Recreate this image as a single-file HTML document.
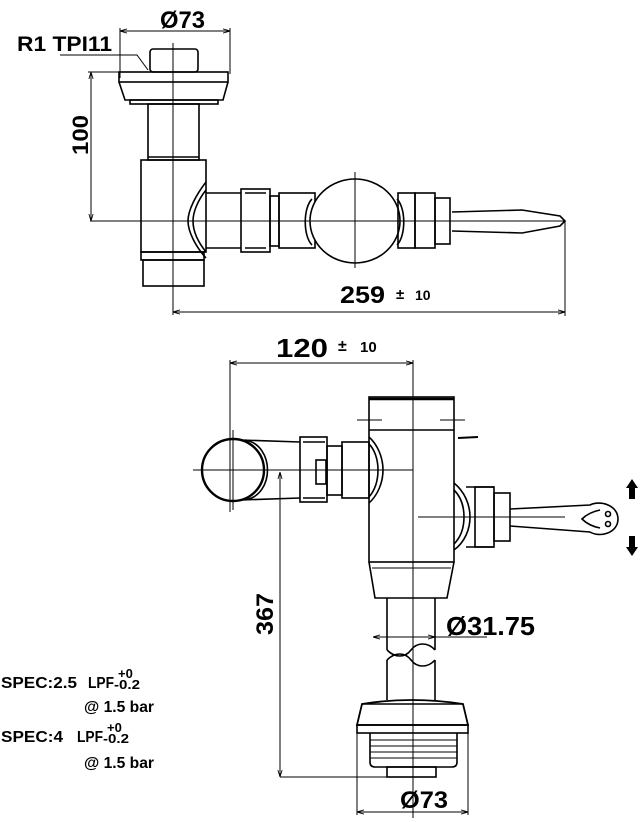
<!DOCTYPE html>
<html><head><meta charset="utf-8"><style>
html,body{margin:0;padding:0;background:#fff;}
svg{display:block;}
text{font-family:"Liberation Sans",sans-serif;font-weight:bold;fill:#000;}
</style></head><body>
<svg width="644" height="822" viewBox="0 0 644 822" xmlns="http://www.w3.org/2000/svg">
<defs>
<marker id="a" viewBox="0 0 10 10" refX="10" refY="5" markerWidth="7" markerHeight="7" orient="auto-start-reverse"><path d="M0,2 L10,5 L0,8" fill="none" stroke="#000" stroke-width="1.2"/></marker>
</defs>
<g fill="none" stroke="#000" stroke-width="1.6">
<line x1="120" y1="31" x2="230" y2="31" stroke-width="1" marker-start="url(#a)" marker-end="url(#a)"/>
<line x1="120" y1="28" x2="120" y2="78" stroke-width="1"/>
<line x1="230" y1="28" x2="230" y2="74" stroke-width="1"/>
<polyline points="60,55 137,55 148,70" stroke-width="1"/>
<line x1="91" y1="72" x2="91" y2="221" stroke-width="1" marker-start="url(#a)" marker-end="url(#a)"/>
<line x1="88" y1="72" x2="120" y2="72" stroke-width="1"/>
<line x1="90" y1="221" x2="565" y2="221" stroke-width="1"/>
<line x1="173" y1="43" x2="173" y2="315" stroke-width="1"/>
<line x1="173" y1="312" x2="565" y2="312" stroke-width="1" marker-start="url(#a)" marker-end="url(#a)"/>
<line x1="565" y1="221" x2="565" y2="316" stroke-width="1"/>
<rect x="150" y="49" width="48" height="23" rx="3"/>
<rect x="119" y="72" width="109" height="10"/>
<path d="M119,82 L125,100 L223,100 L228,82"/>
<rect x="130" y="100" width="88" height="4"/>
<rect x="148" y="104" width="51" height="56"/>
<line x1="148" y1="157" x2="199" y2="157"/>
<rect x="141" y="160" width="65" height="92"/>
<rect x="141" y="252" width="63" height="8"/>
<rect x="143" y="260" width="61" height="26"/>
<path d="M206,182 C196,195 188,210 188,221 C188,232 196,247 206,258"/>
<path d="M206,190 C198,200 193,212 193,221 C193,232 198,242 206,252"/>
<line x1="206" y1="193" x2="241" y2="193"/>
<line x1="206" y1="248" x2="241" y2="248"/>
<rect x="241" y="189" width="29" height="63"/>
<line x1="245" y1="193" x2="266" y2="193"/><line x1="245" y1="248" x2="266" y2="248"/>
<rect x="270" y="196" width="9" height="50"/>
<rect x="279" y="193" width="36" height="55"/>
<path d="M312,199 C303,208 303,236 312,245"/>
<ellipse cx="355" cy="221" rx="45" ry="42" fill="#fff"/>
<line x1="355" y1="172" x2="355" y2="268" stroke-width="1"/>
<line x1="311" y1="221" x2="400" y2="221" stroke-width="1"/>
<path d="M397,199 C406,208 406,236 397,245"/>
<rect x="398" y="193" width="17" height="55"/>
<rect x="415" y="193" width="20" height="55"/>
<rect x="435" y="198" width="15" height="46"/>
<path d="M452,212 L522,210 L560,216 L565,221 L560,226 L522,233 L452,231"/>
<line x1="230" y1="363" x2="413" y2="363" stroke-width="1" marker-start="url(#a)" marker-end="url(#a)"/>
<line x1="230" y1="360" x2="230" y2="512" stroke-width="1"/>
<line x1="413" y1="360" x2="413" y2="818" stroke-width="1"/>
<line x1="193" y1="470" x2="413" y2="470" stroke-width="1"/>
<line x1="233" y1="430" x2="233" y2="510" stroke-width="1"/>
<line x1="240" y1="440" x2="300" y2="442"/>
<line x1="240" y1="500" x2="300" y2="498"/>
<path d="M245,440 C275,445 275,495 245,500"/>
<circle cx="233" cy="470" r="31" fill="none" stroke-width="2.4"/>
<rect x="300" y="437" width="27" height="65"/>
<line x1="303" y1="442" x2="325" y2="442"/><line x1="303" y1="498" x2="325" y2="498"/>
<rect x="316" y="460" width="10" height="24"/>
<rect x="327" y="446" width="15" height="49"/>
<rect x="342" y="442" width="27" height="56"/>
<path d="M369,437 C378,445 383,458 383,470 C383,482 378,495 369,503"/>
<path d="M369,444 C375,450 378,460 378,470 C378,480 375,490 369,497"/>
<rect x="369" y="397" width="85" height="165"/>
<line x1="369" y1="430" x2="454" y2="430"/>
<line x1="369" y1="399" x2="454" y2="399" stroke-width="2.5"/>
<line x1="357" y1="420" x2="382" y2="420" stroke-width="1"/>
<line x1="440" y1="420" x2="465" y2="420" stroke-width="1"/>
<line x1="458" y1="438" x2="478" y2="437" stroke-width="2"/>
<path d="M369,562 L375,598 L447,598 L454,562"/>
<line x1="372" y1="568" x2="451" y2="568" stroke-width="1"/>
<path d="M454,483 C465,492 470,505 470,517 C470,529 465,542 454,550"/>
<path d="M454,490 C461,497 464,507 464,517 C464,527 461,537 454,544"/>
<line x1="466" y1="487" x2="494" y2="487"/><line x1="466" y1="547" x2="494" y2="547"/>
<rect x="475" y="487" width="19" height="60"/>
<rect x="494" y="493" width="16" height="48"/>
<line x1="418" y1="517" x2="565" y2="517" stroke-width="1"/>
<path d="M510,509 L590,505 C600,500 618,505 618,519 C618,533 600,538 590,532 L510,526"/>
<path d="M600,510 C590,512 585,516 582,519 C585,522 590,526 600,528"/>
<circle cx="608" cy="514" r="2.5"/><circle cx="608" cy="524" r="2.5"/>
<line x1="387" y1="598" x2="387" y2="650"/><line x1="435" y1="598" x2="435" y2="650"/>
<path d="M387,650 C395,658 405,658 411,650 C417,642 428,642 435,650"/>
<path d="M387,660 C395,652 405,652 411,660 C417,668 428,668 435,660"/>
<line x1="387" y1="660" x2="387" y2="700"/><line x1="435" y1="660" x2="435" y2="700"/>
<line x1="373" y1="637" x2="487" y2="637" stroke-width="1" marker-start="url(#a)"/>
<line x1="420" y1="637" x2="435" y2="637" stroke-width="1" marker-end="url(#a)"/>
<path d="M357,725 L362,704 Q411,696 463,704 L468,725 Z" stroke-width="1.8"/>
<line x1="362" y1="704" x2="463" y2="704"/>
<rect x="357" y="725" width="111" height="8"/>
<path d="M370,733 L370,762 Q370,767 375,767 L452,767 Q457,767 457,762 L457,733"/>
<line x1="370" y1="740" x2="457" y2="740" stroke-width="1"/>
<line x1="370" y1="746" x2="457" y2="746" stroke-width="1"/>
<line x1="370" y1="752" x2="457" y2="752" stroke-width="1"/>
<line x1="370" y1="758" x2="457" y2="758" stroke-width="1"/>
<rect x="387" y="767" width="49" height="10"/>
<line x1="280" y1="472" x2="280" y2="777" stroke-width="1" marker-start="url(#a)" marker-end="url(#a)"/>
<line x1="280" y1="777" x2="436" y2="777" stroke-width="1"/>
<line x1="357" y1="733" x2="357" y2="815" stroke-width="1"/>
<line x1="468" y1="733" x2="468" y2="815" stroke-width="1"/>
<line x1="357" y1="812" x2="468" y2="812" stroke-width="1" marker-start="url(#a)" marker-end="url(#a)"/>
</g>
<path d="M632,479 L638,488 L635,488 L635,499 L629,499 L629,488 L626,488 Z" fill="#000"/>
<path d="M632,556 L638,547 L635,547 L635,536 L629,536 L629,547 L626,547 Z" fill="#000"/>
<text x="160" y="28" font-size="24" textLength="45" lengthAdjust="spacingAndGlyphs">Ø73</text>
<text x="17" y="51" font-size="21" textLength="95" lengthAdjust="spacingAndGlyphs">R1 TPI11</text>
<text transform="translate(88,155) rotate(-90)" font-size="22" textLength="40" lengthAdjust="spacingAndGlyphs">100</text>
<text x="340" y="303" font-size="24" textLength="45" lengthAdjust="spacingAndGlyphs">259</text>
<text x="396" y="299" font-size="15">±</text>
<text x="415" y="300" font-size="14">10</text>
<text x="276" y="357" font-size="26" textLength="52" lengthAdjust="spacingAndGlyphs">120</text>
<text x="338" y="351" font-size="16">±</text>
<text x="360" y="352" font-size="15">10</text>
<text transform="translate(273,635) rotate(-90)" font-size="24" textLength="42" lengthAdjust="spacingAndGlyphs">367</text>
<text x="446" y="635" font-size="26" textLength="89" lengthAdjust="spacingAndGlyphs">Ø31.75</text>
<text x="400" y="808" font-size="24" textLength="48" lengthAdjust="spacingAndGlyphs">Ø73</text>
<g font-size="16">
<text x="1" y="688" textLength="76" lengthAdjust="spacingAndGlyphs">SPEC:2.5</text>
<text x="88" y="688" textLength="26" lengthAdjust="spacingAndGlyphs">LPF</text>
<text x="118" y="678" font-size="13">+0</text>
<text x="114" y="689" font-size="13" textLength="26" lengthAdjust="spacingAndGlyphs">-0.2</text>
<text x="84" y="712" textLength="70" lengthAdjust="spacingAndGlyphs">@ 1.5 bar</text>
<text x="1" y="742" textLength="62" lengthAdjust="spacingAndGlyphs">SPEC:4</text>
<text x="77" y="742" textLength="26" lengthAdjust="spacingAndGlyphs">LPF</text>
<text x="107" y="732" font-size="13">+0</text>
<text x="103" y="743" font-size="13" textLength="26" lengthAdjust="spacingAndGlyphs">-0.2</text>
<text x="84" y="768" textLength="70" lengthAdjust="spacingAndGlyphs">@ 1.5 bar</text>
</g>
</svg>
</body></html>
